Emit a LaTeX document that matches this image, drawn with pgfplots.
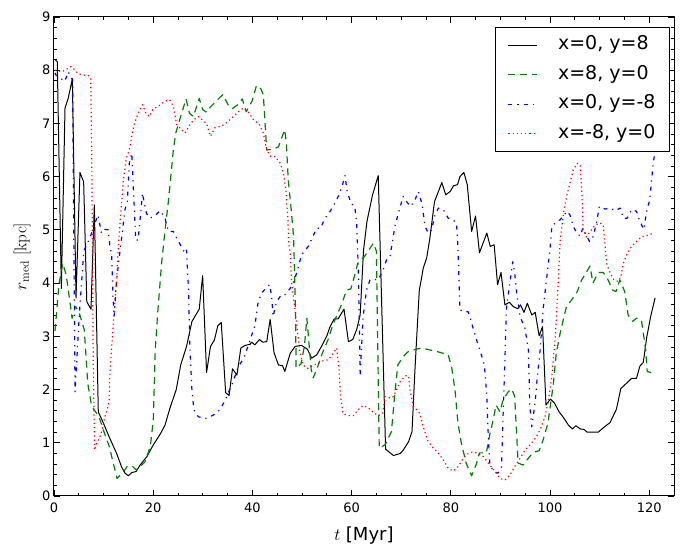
\documentclass[border=0pt]{standalone}
\usepackage{fontspec}
\usepackage{pgfplots}
\pgfplotsset{compat=1.18}
\newfontfamily\dejavu{DejaVu Sans}
\definecolor{mplgreen}{rgb}{0,0.5,0}
\begin{document}
\begin{tikzpicture}
\begin{axis}[
  scale only axis, width=620pt, height=479pt,
  xmin=0, xmax=125, ymin=0, ymax=9,
  xtick={0,20,...,120}, ytick={0,1,...,9},
  minor x tick num=3, minor y tick num=4,
  tick align=inside, tick pos=both,
  major tick length=6pt, minor tick length=3pt,
  every tick/.style={black, line width=0.8pt},
  axis line style={line width=1pt},
  /pgf/number format/assume math mode=true,
  ticklabel style={font=\dejavu\fontsize{13}{13}\selectfont},
  xticklabel style={yshift=-3pt},
  xlabel={$t$ {\dejavu [Myr]}},
  ylabel={$r_{\rm med}$ [kpc]},
  xlabel style={font=\fontsize{18}{18}\selectfont, at={(axis description cs:0.5,-0.0919)}, anchor=base},
  ylabel style={font=\fontsize{17}{17}\selectfont, at={(axis description cs:-0.0516,0.5)}, anchor=center},
  legend cell align=left,
  legend image code/.code={\draw[#1] (0pt,0pt) -- (29pt,0pt);},
  legend style={at={(axis description cs:0.99355,0.97912)}, anchor=north east,
    draw=black, line width=1pt, fill=white,
    inner xsep=12pt, inner ysep=7pt, row sep=8pt, column sep=18pt,
    font=\dejavu\fontsize{19}{19}\selectfont,
    nodes={inner xsep=2pt, inner ysep=2pt, text height=13.5pt, text depth=4pt}},
  line join=round,
]
\addplot[black, line width=1pt, solid] coordinates {
(0.2,8.2)(0.66,8.16)(1.48,3.9)(2.22,7.29)(2.86,7.47)(3.70,7.84)(4.44,3.72)(5.23,6.08)(5.98,5.9)(6.61,3.65)(7.46,3.51)(8.13,5.47)(8.93,1.58)(9.96,1.37)(10.94,1.15)(12.62,0.80)(13.61,0.55)(14.30,0.43)(14.99,0.38)(15.68,0.44)(16.56,0.46)(17.35,0.58)(18.73,0.74)(20.02,0.96)(21.40,1.16)(22.38,1.33)(23.37,1.65)(24.65,2.0)(25.54,2.46)(26.72,2.81)(27.81,3.28)(29.28,3.51)(29.97,4.14)(30.76,2.32)(31.55,2.81)(32.34,2.93)(33.03,3.2)(33.72,3.26)(34.61,1.94)(35.30,1.89)(35.99,2.39)(36.88,2.27)(37.67,2.78)(38.55,2.83)(39.54,2.85)(39.83,2.89)(40.52,2.84)(41.41,2.94)(42.10,2.89)(42.89,2.9)(43.58,3.32)(44.37,2.69)(45.26,2.46)(46.05,2.45)(46.54,2.34)(47.62,2.68)(48.61,2.81)(49.89,2.83)(51.07,2.76)(51.96,2.59)(52.95,2.65)(53.93,2.81)(55.02,3.01)(55.61,3.17)(56.50,3.33)(57.29,3.33)(58.47,3.51)(59.36,2.9)(60.24,2.94)(61.03,3.13)(61.72,3.4)(62.41,4.62)(63.10,5.16)(64.2,5.65)(65.37,6.02)(66.85,0.88)(68.43,0.76)(69.81,0.8)(70.40,0.86)(71.49,1.02)(72.18,1.21)(72.77,2.37)(73.65,3.87)(74.15,4.12)(74.44,4.28)(75.13,4.47)(75.82,4.87)(76.71,5.53)(77.50,5.72)(78.19,5.89)(78.98,5.66)(79.87,5.72)(80.56,5.83)(81.35,5.85)(81.84,6.0)(82.63,6.08)(83.32,5.85)(84.20,4.97)(84.99,5.26)(85.78,4.57)(87.26,4.94)(87.95,4.69)(88.74,4.72)(89.43,3.97)(90.12,4.2)(90.91,3.59)(91.80,3.64)(92.59,3.56)(93.47,3.52)(94.06,3.59)(94.75,3.45)(95.44,3.62)(96.33,3.4)(97.02,3.45)(97.81,3.01)(98.50,3.18)(99.19,1.71)(100.08,1.82)(100.87,1.75)(101.85,1.58)(102.74,1.47)(103.73,1.33)(104.52,1.26)(105.21,1.32)(106.09,1.26)(106.88,1.25)(107.47,1.2)(109.74,1.2)(110.73,1.28)(112.11,1.38)(113.39,1.63)(114.28,2.02)(115.46,2.12)(116.45,2.21)(117.43,2.21)(118.12,2.44)(118.81,2.51)(119.50,2.98)(120.29,3.37)(121.18,3.72)
};
\addlegendentry{x=0, y=8}
\addplot[mplgreen, line width=1.2pt, dash pattern=on 7pt off 5pt] coordinates {
(0.2,3.1)(0.39,3.3)(0.99,3.97)(1.77,4.37)(2.47,4.15)(3.16,3.68)(3.65,3.34)(4.34,3.56)(5.03,3.46)(6.11,3.12)(6.80,2.12)(7.49,1.74)(8.09,1.62)(9.07,1.49)(10.06,1.21)(11.14,0.93)(12.13,0.55)(12.72,0.33)(13.80,0.43)(14.79,0.56)(15.78,0.56)(16.56,0.49)(17.35,0.55)(18.34,0.64)(19.42,0.93)(20.02,1.43)(20.41,2.74)(20.90,3.43)(21.69,4.37)(22.18,4.81)(23.17,5.63)(24.06,6.5)(24.55,6.82)(25.54,7.13)(26.62,7.46)(27.31,7.19)(28.10,7.13)(29.28,7.47)(29.97,7.26)(30.76,7.21)(31.65,7.32)(32.93,7.44)(34.02,7.54)(35.30,7.32)(35.99,7.28)(36.98,7.35)(37.96,7.46)(38.75,7.22)(39.93,7.42)(40.82,7.71)(41.71,7.65)(42.20,7.54)(42.89,6.5)(44.17,6.52)(45.26,6.56)(45.85,6.72)(46.54,6.88)(46.84,6.63)(47.23,5.94)(47.82,5.38)(48.31,4.87)(48.51,4.12)(48.71,3.37)(48.81,2.4)(49.79,2.48)(50.48,2.81)(50.98,3.34)(51.86,2.37)(52.26,2.22)(53.05,2.4)(53.84,2.62)(54.53,2.78)(55.22,2.93)(56.20,3.21)(57.19,3.43)(58.08,3.62)(58.96,3.87)(59.85,3.89)(60.54,4.12)(61.23,4.37)(62.6,4.5)(64.39,4.75)(65.0,4.6)(65.57,0.9)(66.75,0.96)(68.03,1.21)(68.72,1.93)(69.32,2.46)(70.40,2.62)(71.39,2.71)(73.06,2.76)(74.15,2.78)(77.80,2.7)(79.47,2.65)(80.16,2.43)(80.85,1.99)(81.44,1.37)(82.13,0.99)(83.12,0.61)(84.20,0.38)(85.19,0.61)(85.78,0.81)(87.16,0.81)(87.85,1.15)(88.54,1.43)(89.13,1.71)(89.92,1.58)(90.51,1.8)(91.60,1.96)(92.29,2.01)(92.88,1.87)(93.57,0.62)(94.56,0.58)(95.64,0.71)(96.63,0.82)(97.81,0.85)(98.60,1.05)(99.59,1.37)(100.67,2.1)(101.26,2.68)(102.05,3.06)(102.74,3.34)(103.33,3.56)(104.32,3.68)(105.50,3.84)(106.39,4.06)(108.07,4.32)(108.66,4.0)(109.74,4.2)(110.73,4.2)(111.71,4.06)(112.60,3.87)(113.29,3.84)(114.08,4.06)(115.07,3.84)(115.75,3.4)(116.64,3.28)(117.43,3.34)(118.42,3.31)(119.31,2.74)(119.60,2.34)(120.59,2.31)
};
\addlegendentry{x=8, y=0}
\addplot[blue, line width=1.2pt, dash pattern=on 4pt off 5pt on 1.2pt off 5pt] coordinates {
(0.2,7.95)(0.39,7.91)(2.17,7.79)(2.86,7.97)(3.75,7.82)(4.24,1.96)(5.1,3.4)(6.0,4.6)(7.20,4.84)(8.28,5.13)(8.87,5.28)(9.56,4.94)(10.25,5.01)(10.94,5.0)(11.24,4.72)(11.63,4.53)(11.93,3.68)(12.13,3.37)(12.62,4.06)(14.30,5.38)(14.79,5.53)(15.18,6.25)(15.68,6.44)(15.87,6.07)(15.97,5.82)(16.27,5.25)(16.47,4.81)(16.96,4.81)(17.85,5.69)(18.14,5.53)(18.64,5.31)(19.33,5.22)(20.31,5.26)(21.40,5.36)(22.38,5.22)(23.07,4.97)(24.06,4.97)(24.75,4.84)(26.42,4.56)(26.72,4.62)(27.12,3.87)(27.41,2.74)(27.81,1.99)(28.20,1.62)(29.09,1.49)(30.37,1.45)(32.14,1.52)(33.43,1.62)(34.51,1.8)(34.81,1.87)(35.99,2.12)(37.17,2.43)(38.26,2.59)(39.44,2.9)(40.52,3.21)(41.12,3.62)(41.81,3.81)(42.89,3.92)(43.48,3.97)(43.88,3.75)(44.17,3.37)(44.86,3.65)(45.85,3.78)(46.54,3.78)(47.62,3.9)(48.51,4.07)(49.20,4.28)(49.89,4.53)(51.27,4.69)(52.16,4.87)(52.95,5.03)(53.74,5.03)(54.62,5.22)(55.61,5.34)(56.60,5.5)(57.48,5.66)(58.17,5.85)(58.67,6.02)(59.06,5.75)(59.85,5.5)(60.64,5.44)(61.03,5.12)(61.33,4.31)(61.53,3.37)(61.72,2.27)(62.02,2.81)(62.32,3.37)(63.01,3.87)(63.70,4.06)(64.39,4.07)(65.37,4.06)(66.36,4.25)(67.05,4.44)(67.74,4.5)(68.72,5.06)(69.41,5.31)(70.40,5.63)(71.09,5.53)(71.88,5.44)(72.77,5.56)(73.46,5.72)(74.15,5.5)(74.84,5.06)(75.43,4.94)(76.12,5.0)(76.81,5.28)(77.50,5.41)(78.49,5.38)(79.47,5.22)(80.46,5.19)(81.15,5.12)(81.44,4.69)(81.84,3.5)(82.53,3.46)(83.51,3.46)(84.20,3.25)(85.09,2.96)(85.88,2.74)(86.77,2.46)(87.26,1.87)(87.56,1.11)(87.85,0.62)(88.54,0.46)(89.53,0.43)(90.22,0.55)(90.51,1.43)(90.91,2.56)(91.21,3.53)(91.90,4.0)(92.49,4.4)(92.88,4.19)(93.28,3.81)(93.97,3.37)(94.95,3.15)(95.64,2.74)(95.94,1.68)(96.33,1.3)(97.02,1.77)(97.32,2.12)(98.01,2.74)(98.60,3.5)(99.29,4.06)(99.98,4.62)(100.37,5.06)(101.36,5.16)(102.05,5.19)(103.43,5.35)(104.02,5.28)(104.71,5.06)(105.40,4.94)(106.09,4.88)(106.59,5.03)(107.08,4.94)(107.97,4.78)(108.76,4.88)(109.54,5.22)(109.94,5.44)(111.12,5.39)(112.11,5.41)(113.09,5.36)(114.18,5.41)(114.77,5.22)(115.56,5.22)(116.45,5.38)(117.43,5.35)(118.12,5.16)(118.91,5.01)(119.50,5.35)(120.09,5.56)(120.49,5.94)(120.79,6.25)(121.18,6.47)
};
\addlegendentry{x=0, y=-8}
\addplot[red, line width=1.2pt, dash pattern=on 1.2pt off 3pt] coordinates {
(0.2,8.0)(0.49,8.0)(1.58,7.97)(2.56,8.02)(3.45,8.07)(4.24,8.0)(4.93,7.93)(5.92,7.91)(6.90,7.9)(7.40,7.85)(7.59,6.63)(7.69,5.38)(7.89,2.74)(8.18,0.86)(8.58,0.99)(9.27,1.11)(9.76,1.27)(10.25,1.49)(10.75,1.62)(11.14,1.8)(11.24,2.24)(11.44,2.56)(11.93,3.18)(12.23,3.62)(12.62,4.06)(12.92,4.62)(13.51,5.38)(14.00,5.94)(14.59,6.35)(15.18,6.5)(15.68,6.76)(16.17,6.98)(16.96,7.19)(17.85,7.35)(18.54,7.19)(19.23,7.13)(19.92,7.26)(21.00,7.32)(22.38,7.42)(23.37,7.44)(24.06,7.32)(24.75,6.98)(25.54,6.9)(26.42,6.82)(27.41,6.98)(28.20,7.07)(29.09,7.13)(30.76,7.0)(31.55,6.76)(32.44,6.92)(33.82,6.95)(35.10,7.04)(36.19,7.13)(37.17,7.22)(38.16,7.29)(39.14,7.22)(40.23,7.07)(41.41,6.98)(42.20,6.82)(42.89,6.5)(43.68,6.38)(44.57,6.38)(45.55,6.26)(46.24,6.07)(46.74,5.75)(47.13,5.25)(47.33,4.75)(47.62,4.56)(47.92,4.0)(48.51,3.56)(49.00,3.18)(49.50,2.74)(50.19,2.46)(51.17,2.4)(52.26,2.46)(53.24,2.49)(54.23,2.54)(55.31,2.56)(56.30,2.68)(56.99,2.78)(57.48,2.37)(57.78,1.87)(58.27,1.55)(59.26,1.51)(60.34,1.51)(61.33,1.62)(62.32,1.7)(63.30,1.66)(64.39,1.57)(65.37,1.51)(66.26,1.55)(66.75,1.87)(67.74,1.84)(68.5,1.87)(69.12,2.02)(69.81,2.15)(70.40,2.21)(71.09,2.27)(71.49,2.24)(71.78,1.99)(72.47,1.68)(73.16,1.62)(73.75,1.55)(74.44,1.3)(75.43,1.02)(76.51,0.9)(77.50,0.8)(78.49,0.68)(79.47,0.52)(80.46,0.47)(81.44,0.55)(82.53,0.71)(83.51,0.8)(84.50,0.83)(85.49,0.8)(86.57,0.74)(87.56,0.62)(88.94,0.46)(89.92,0.33)(90.91,0.3)(91.90,0.39)(92.88,0.55)(93.97,0.71)(94.95,0.86)(95.94,0.96)(97.02,1.08)(98.01,1.24)(98.99,1.49)(99.68,1.8)(100.37,2.24)(101.06,2.99)(101.66,4.0)(102.05,4.81)(102.84,5.38)(103.43,5.66)(104.02,5.88)(104.71,6.13)(105.50,6.25)(106.09,6.22)(106.39,5.75)(106.59,5.31)(106.69,5.0)(107.37,4.87)(108.36,5.0)(109.05,5.09)(110.13,5.13)(110.73,5.09)(111.12,4.69)(111.41,4.37)(112.11,4.19)(112.90,4.06)(113.78,4.03)(114.28,4.12)(114.77,4.37)(115.46,4.53)(116.45,4.69)(117.43,4.78)(118.42,4.87)(119.50,4.89)(120.79,4.94)
};
\addlegendentry{x=-8, y=0}
\coordinate (SW) at (rel axis cs:0,0);
\coordinate (NE) at (rel axis cs:1,1);
\end{axis}
\path ([shift={(-54pt,-60pt)}]SW) rectangle ([shift={(9pt,17pt)}]NE);
\end{tikzpicture}
\end{document}
